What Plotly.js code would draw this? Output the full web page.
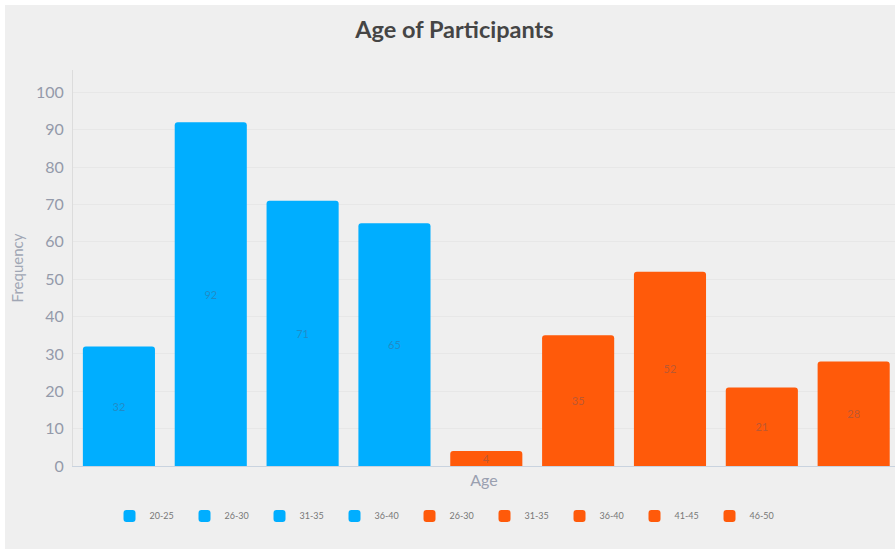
<!DOCTYPE html>
<html>
<head>
<meta charset="utf-8">
<script src="https://cdn.plot.ly/plotly-3.0.1.min.js"></script>
<style>
  html, body { margin: 0; padding: 0; background: #ffffff; }
  #chart { position: absolute; left: 5px; top: 5px; width: 890px; height: 544px; }
</style>
</head>
<body>
<div id="chart"></div>
<script>
// Age groups and how many participants fall into each
const ageLabels = ['20-25', '26-30', '31-35', '36-40', '26-30', '31-35', '36-40', '41-45', '46-50'];
const frequencies = [32, 92, 71, 65, 4, 35, 52, 21, 28];
const groupOf = ['a', 'a', 'a', 'a', 'b', 'b', 'b', 'b', 'b'];
const groupColors = { a: '#00AEFF', b: '#FF5A0A' };
const yTicks = [0, 10, 20, 30, 40, 50, 60, 70, 80, 90, 100];

const traces = ageLabels.map((label, i) => ({
  type: 'bar',
  name: label,
  x: [i],
  y: [frequencies[i]],
  text: [String(frequencies[i])],
  textposition: 'inside',
  insidetextanchor: 'middle',
  constraintext: 'none',
  textangle: 0,
  textfont: { family: 'Lato, sans-serif', size: 11, color: 'rgba(80,85,110,0.4)' },
  width: 0.785,
  marker: { color: groupColors[groupOf[i]], cornerradius: 3 },
  hoverinfo: 'name+y'
}));

const layout = {
  width: 890,
  height: 544,
  paper_bgcolor: '#efefef',
  plot_bgcolor: '#efefef',
  font: { family: 'Lato, sans-serif', color: '#8a8fa0' },
  margin: { l: 68, r: 0, t: 65, b: 83 },
  barmode: 'overlay',
  title: {
    text: '<b>Age of Participants</b>',
    font: { family: 'Lato, sans-serif', size: 23.5, color: '#454545' },
    x: 0.505, xanchor: 'center', y: 0.955, yanchor: 'middle'
  },
  xaxis: {
    range: [-0.5, 8.45],
    showticklabels: false,
    ticks: '',
    showgrid: false,
    zeroline: false,
    showline: true,
    linecolor: '#c9d3df',
    linewidth: 1,
    title: { text: 'Age', font: { size: 16, color: '#9aa0b0' }, standoff: 8 }
  },
  yaxis: {
    range: [0, 106],
    tickvals: yTicks,
    ticktext: yTicks.map(String),
    tickfont: { size: 16, color: '#949aaa' },
    showgrid: true,
    gridcolor: '#e7e7e7',
    zeroline: false,
    showline: true,
    linecolor: '#dcdcdc',
    ticks: '',
    ticklabelstandoff: 5,
    title: { text: 'Frequency', font: { size: 15, color: '#a0a6b4' }, standoff: 8 }
  },
  showlegend: true,
  legend: {
    orientation: 'h',
    x: 0.455, xanchor: 'center',
    y: -0.126, yanchor: 'middle',
    entrywidth: 30,
    entrywidthmode: 'pixels',
    itemwidth: 30,
    font: { size: 9, color: '#777777' },
    bgcolor: 'rgba(0,0,0,0)'
  }
};

Plotly.newPlot('chart', traces, layout, { displayModeBar: false, responsive: false });
</script>
</body>
</html>
